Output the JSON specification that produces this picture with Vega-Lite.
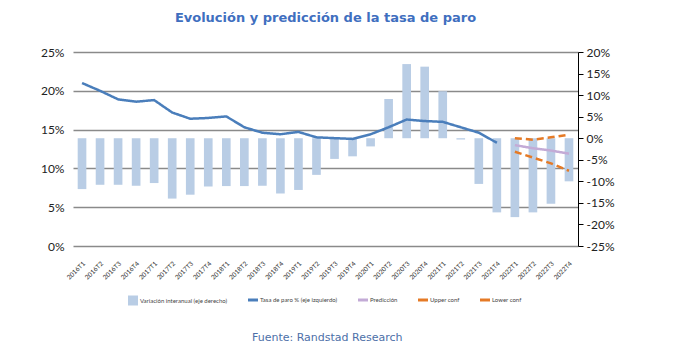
{
  "$schema": "https://vega.github.io/schema/vega-lite/v6.json",
  "padding": {"left": 40, "top": 12, "right": 10, "bottom": 0},
  "background": "white",
  "title": {"text": "Fuente: Randstad Research", "orient": "bottom", "font": "DejaVu Sans", "fontSize": 11, "fontWeight": "normal", "color": "#4d6fa8", "anchor": "middle", "offset": 26},
  "vconcat": [
    {
      "width": 505,
      "height": 194,
      "title": {"text": "Evolución y predicción de la tasa de paro", "font": "DejaVu Sans", "fontSize": 13, "fontWeight": "bold", "color": "#3f6fbf", "anchor": "middle", "offset": 21},
      "data": {
        "values": [
          {"t": "2016T1", "s": "Variación interanual (eje derecho)", "v": -11.8},
          {"t": "2016T2", "s": "Variación interanual (eje derecho)", "v": -10.8},
          {"t": "2016T3", "s": "Variación interanual (eje derecho)", "v": -10.8},
          {"t": "2016T4", "s": "Variación interanual (eje derecho)", "v": -11.0},
          {"t": "2017T1", "s": "Variación interanual (eje derecho)", "v": -10.4},
          {"t": "2017T2", "s": "Variación interanual (eje derecho)", "v": -14.0},
          {"t": "2017T3", "s": "Variación interanual (eje derecho)", "v": -13.1},
          {"t": "2017T4", "s": "Variación interanual (eje derecho)", "v": -11.2},
          {"t": "2018T1", "s": "Variación interanual (eje derecho)", "v": -11.1},
          {"t": "2018T2", "s": "Variación interanual (eje derecho)", "v": -11.1},
          {"t": "2018T3", "s": "Variación interanual (eje derecho)", "v": -11.0},
          {"t": "2018T4", "s": "Variación interanual (eje derecho)", "v": -12.8},
          {"t": "2019T1", "s": "Variación interanual (eje derecho)", "v": -12.0},
          {"t": "2019T2", "s": "Variación interanual (eje derecho)", "v": -8.5},
          {"t": "2019T3", "s": "Variación interanual (eje derecho)", "v": -4.8},
          {"t": "2019T4", "s": "Variación interanual (eje derecho)", "v": -4.2},
          {"t": "2020T1", "s": "Variación interanual (eje derecho)", "v": -1.9},
          {"t": "2020T2", "s": "Variación interanual (eje derecho)", "v": 9.1},
          {"t": "2020T3", "s": "Variación interanual (eje derecho)", "v": 17.2},
          {"t": "2020T4", "s": "Variación interanual (eje derecho)", "v": 16.6},
          {"t": "2021T1", "s": "Variación interanual (eje derecho)", "v": 10.9},
          {"t": "2021T2", "s": "Variación interanual (eje derecho)", "v": -0.3},
          {"t": "2021T3", "s": "Variación interanual (eje derecho)", "v": -10.6},
          {"t": "2021T4", "s": "Variación interanual (eje derecho)", "v": -17.2},
          {"t": "2022T1", "s": "Variación interanual (eje derecho)", "v": -18.3},
          {"t": "2022T2", "s": "Variación interanual (eje derecho)", "v": -17.2},
          {"t": "2022T3", "s": "Variación interanual (eje derecho)", "v": -15.2},
          {"t": "2022T4", "s": "Variación interanual (eje derecho)", "v": -10.0},
          {"t": "2016T1", "s": "Tasa de paro % (eje izquierdo)", "v": 21.0},
          {"t": "2016T2", "s": "Tasa de paro % (eje izquierdo)", "v": 20.0},
          {"t": "2016T3", "s": "Tasa de paro % (eje izquierdo)", "v": 18.9},
          {"t": "2016T4", "s": "Tasa de paro % (eje izquierdo)", "v": 18.6},
          {"t": "2017T1", "s": "Tasa de paro % (eje izquierdo)", "v": 18.8},
          {"t": "2017T2", "s": "Tasa de paro % (eje izquierdo)", "v": 17.2},
          {"t": "2017T3", "s": "Tasa de paro % (eje izquierdo)", "v": 16.4},
          {"t": "2017T4", "s": "Tasa de paro % (eje izquierdo)", "v": 16.5},
          {"t": "2018T1", "s": "Tasa de paro % (eje izquierdo)", "v": 16.7},
          {"t": "2018T2", "s": "Tasa de paro % (eje izquierdo)", "v": 15.3},
          {"t": "2018T3", "s": "Tasa de paro % (eje izquierdo)", "v": 14.6},
          {"t": "2018T4", "s": "Tasa de paro % (eje izquierdo)", "v": 14.4},
          {"t": "2019T1", "s": "Tasa de paro % (eje izquierdo)", "v": 14.7},
          {"t": "2019T2", "s": "Tasa de paro % (eje izquierdo)", "v": 14.0},
          {"t": "2019T3", "s": "Tasa de paro % (eje izquierdo)", "v": 13.9},
          {"t": "2019T4", "s": "Tasa de paro % (eje izquierdo)", "v": 13.8},
          {"t": "2020T1", "s": "Tasa de paro % (eje izquierdo)", "v": 14.4},
          {"t": "2020T2", "s": "Tasa de paro % (eje izquierdo)", "v": 15.3},
          {"t": "2020T3", "s": "Tasa de paro % (eje izquierdo)", "v": 16.3},
          {"t": "2020T4", "s": "Tasa de paro % (eje izquierdo)", "v": 16.1},
          {"t": "2021T1", "s": "Tasa de paro % (eje izquierdo)", "v": 16.0},
          {"t": "2021T2", "s": "Tasa de paro % (eje izquierdo)", "v": 15.3},
          {"t": "2021T3", "s": "Tasa de paro % (eje izquierdo)", "v": 14.6},
          {"t": "2021T4", "s": "Tasa de paro % (eje izquierdo)", "v": 13.3},
          {"t": "2022T1", "s": "Predicción", "v": 13.0},
          {"t": "2022T2", "s": "Predicción", "v": 12.6},
          {"t": "2022T3", "s": "Predicción", "v": 12.3},
          {"t": "2022T4", "s": "Predicción", "v": 11.9},
          {"t": "2022T1", "s": "Upper conf", "v": 13.9},
          {"t": "2022T2", "s": "Upper conf", "v": 13.7},
          {"t": "2022T3", "s": "Upper conf", "v": 14.0},
          {"t": "2022T4", "s": "Upper conf", "v": 14.35},
          {"t": "2022T1", "s": "Lower conf", "v": 12.15},
          {"t": "2022T2", "s": "Lower conf", "v": 11.4},
          {"t": "2022T3", "s": "Lower conf", "v": 10.65},
          {"t": "2022T4", "s": "Lower conf", "v": 9.7}
        ]
      },
      "encoding": {
        "x": {
          "field": "t",
          "type": "nominal",
          "sort": null,
          "scale": {"paddingInner": 0.52, "paddingOuter": 0.26},
          "axis": {"title": null, "labelAngle": -45, "labelFontSize": 6.5, "labelColor": "#333333", "labelFont": "Lato", "ticks": false, "domain": false, "labelPadding": 14}
        },
        "color": {
          "field": "s",
          "type": "nominal",
          "scale": {
            "domain": ["Variación interanual (eje derecho)", "Tasa de paro % (eje izquierdo)", "Predicción", "Upper conf", "Lower conf"],
            "range": ["#b9cde5", "#4a7ebb", "#c3abd6", "#e57a26", "#e57a26"]
          },
          "legend": {
            "title": null,
            "orient": "bottom",
            "direction": "horizontal",
            "columns": 5,
            "columnPadding": 14,
            "labelFontSize": 6,
            "labelFont": "Lato",
            "labelColor": "#444444",
            "symbolSize": 100,
            "offset": 16,
            "encode": {
              "symbols": {
                "update": {
                  "shape": {"signal": "datum.value === 'Variación interanual (eje derecho)' ? 'square' : 'stroke'"},
                  "stroke": {"scale": "color", "field": "value"},
                  "fill": {"scale": "color", "field": "value"},
                  "strokeWidth": {"signal": "datum.value === 'Variación interanual (eje derecho)' ? 0 : 3"}
                }
              }
            }
          }
        }
      },
      "layer": [
        {
          "transform": [{"filter": "datum.s === 'Variación interanual (eje derecho)'"}],
          "mark": {"type": "bar"},
          "encoding": {
            "y": {
              "field": "v",
              "type": "quantitative",
              "scale": {"domain": [-25, 20], "nice": false, "zero": false},
              "axis": {"orient": "right", "title": null, "values": [-25, -20, -15, -10, -5, 0, 5, 10, 15, 20], "labelExpr": "datum.value + '%'", "grid": false, "domain": true, "domainColor": "#000000", "domainWidth": 1, "ticks": true, "tickColor": "#000000", "tickSize": 5, "labelPadding": 3, "labelFontSize": 12, "labelFont": "Lato", "labelColor": "#222222"}
            }
          }
        },
        {
          "transform": [{"filter": "datum.s !== 'Variación interanual (eje derecho)'"}],
          "mark": {"type": "line", "strokeWidth": 2.5},
          "encoding": {
            "y": {
              "field": "v",
              "type": "quantitative",
              "scale": {"domain": [0, 25], "nice": false},
              "axis": {"orient": "left", "title": null, "values": [0, 5, 10, 15, 20, 25], "labelExpr": "datum.value + '%'", "grid": true, "gridColor": "#8a8a8a", "gridWidth": 1.5, "domain": false, "ticks": false, "labelPadding": 9, "labelFontSize": 12, "labelFont": "Lato", "labelColor": "#222222"}
            },
            "strokeDash": {
              "field": "s",
              "type": "nominal",
              "scale": {
                "domain": ["Tasa de paro % (eje izquierdo)", "Predicción", "Upper conf", "Lower conf"],
                "range": [[1, 0], [1, 0], [7, 4], [7, 4]]
              },
              "legend": null
            }
          }
        }
      ],
      "resolve": {"scale": {"y": "independent"}}
    }
  ],
  "config": {"view": {"stroke": null}, "font": "Lato", "legend": {"layout": {"bottom": {"anchor": "middle"}}}}
}
